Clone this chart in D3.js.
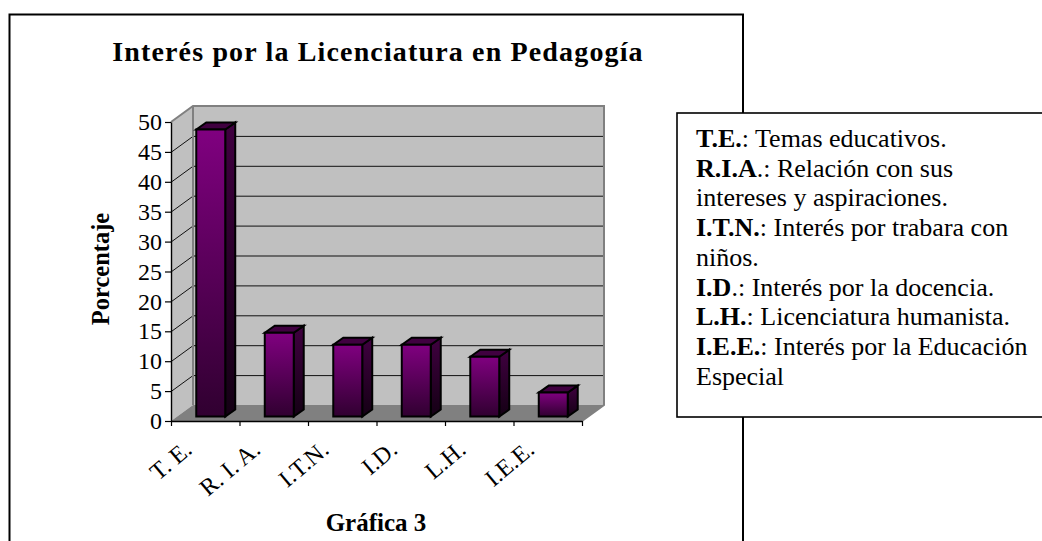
<!DOCTYPE html>
<html><head><meta charset="utf-8">
<script src="https://cdnjs.cloudflare.com/ajax/libs/d3/7.8.5/d3.min.js"></script>
<style>html,body{margin:0;padding:0;background:#fff;overflow:hidden}svg{display:block}text{font-family:"Liberation Serif",serif;fill:#000}</style>
</head><body><svg id="c" width="1042" height="541"></svg>
<script>
const categories = ["T. E.","R. I. A.","I.T.N.","I.D.","L.H.","I.E.E."];
const values = [48,14,12,12,10,4];
const yTicks = [0,5,10,15,20,25,30,35,40,45,50];
const titleText = "Interés por la Licenciatura en Pedagogía";
const yLabel = "Porcentaje";
const xLabel = "Gráfica 3";
const noteLines = [
 [["T.E.",1],[": Temas educativos.",0]],
 [["R.I.A",1],[".: Relación con sus",0]],
 [["intereses y aspiraciones.",0]],
 [["I.T.N.",1],[": Interés por trabara con",0]],
 [["niños.",0]],
 [["I.D",1],[".: Interés por la docencia.",0]],
 [["L.H.",1],[": Licenciatura humanista.",0]],
 [["I.E.E.",1],[": Interés por la Educación",0]],
 [["Especial",0]]
];

const svg = d3.select("#c");
const defs = svg.append("defs");
function grad(id,a,b){const g=defs.append("linearGradient").attr("id",id).attr("x1",0).attr("y1",0).attr("x2",0).attr("y2",1);
 g.append("stop").attr("offset","0%").attr("stop-color",a);g.append("stop").attr("offset","100%").attr("stop-color",b);}
grad("front","#800080","#300030");grad("side","#400040","#140014");

// outer chart frame
svg.append("path").attr("d","M9.5,541V14.5H743V541").attr("fill","none").attr("stroke","#000").attr("stroke-width",2);

const x0=171,x1=582,yB=421,yT=122,dx=22,dy=-16;
const y=d3.scaleLinear().domain([0,50]).range([yB,yT]);
const xEdge=d3.scaleLinear().domain([0,categories.length]).range([x0,x1]);
const xBand=d3.scaleBand().domain(categories).range([x0,x1]).paddingInner(0.577).paddingOuter(0.2885);
const g=svg.append("g");
const pts=a=>a.map(p=>p.join(",")).join(" ");
// walls
g.append("polygon").attr("points",pts([[x0+dx,yT+dy],[x1+dx,yT+dy],[x1+dx,yB+dy],[x0+dx,yB+dy]])).attr("fill","#c0c0c0");
g.append("polygon").attr("points",pts([[x0,yT],[x0+dx,yT+dy],[x0+dx,yB+dy],[x0,yB]])).attr("fill","#c0c0c0");
g.append("polygon").attr("points",pts([[x0,yB],[x0+dx,yB+dy],[x1+dx,yB+dy],[x1,yB]])).attr("fill","#808080");
// gridlines
g.selectAll(".gl").data(yTicks.filter(d=>d>0&&d<50)).join("path").attr("fill","none").attr("stroke","#111").attr("stroke-width",1)
 .attr("d",d=>`M${x0},${y(d)+.5}L${x0+dx},${y(d)+dy+.5}H${x1+dx}`);
// wall edges
g.append("path").attr("fill","none").attr("stroke","#808080").attr("stroke-width",2)
 .attr("d",`M${x0},${yT}L${x0+dx},${yT+dy}H${x1+dx}V${yB+dy}L${x1},${yB}M${x0+dx},${yT+dy}V${yB+dy}`);
// bars
const ox=5.5,oy=-4.5,bdx=10,bdy=-7;
const bars=g.selectAll(".bar").data(categories.map((c,i)=>({c,v:values[i]}))).join("g");
bars.each(function(d){
 const s=d3.select(this),l=xBand(d.c)+ox,r=l+xBand.bandwidth(),t=y(d.v)+oy,b=y(0)+oy;
 const st={stroke:"#000","stroke-width":2,"stroke-linejoin":"miter"};
 const add=(p,f)=>{const e=s.append("polygon").attr("points",pts(p)).attr("fill",f);Object.entries(st).forEach(([k,v])=>e.attr(k,v));};
 add([[r,t],[r+bdx,t+bdy],[r+bdx,b+bdy],[r,b]],"url(#side)");
 add([[l,t],[l+bdx,t+bdy],[r+bdx,t+bdy],[r,t]],"#400040");
 add([[l,t],[r,t],[r,b],[l,b]],"url(#front)");
});
// y axis
const ya=svg.append("g").attr("transform",`translate(${x0},0)`).call(d3.axisLeft(y).tickValues(yTicks).tickSize(6).tickSizeOuter(0).tickPadding(3));
ya.select(".domain").attr("stroke","#000").attr("stroke-width",1.4);
ya.selectAll(".tick line").attr("stroke","#000").attr("stroke-width",1.2);
ya.selectAll("text").attr("font-size",24).attr("font-family","Liberation Serif").attr("fill","#000");
// x axis
const xa=svg.append("g").attr("transform",`translate(0,${yB})`).call(d3.axisBottom(xEdge).tickValues(d3.range(categories.length+1)).tickSize(5).tickSizeOuter(0).tickFormat(""));
xa.select(".domain").attr("stroke","#000").attr("stroke-width",1.4);
xa.selectAll(".tick line").attr("stroke","#000").attr("stroke-width",1.2);
// x labels
svg.selectAll(".xl").data(categories).join("text").attr("text-anchor","end").attr("font-size",24)
 .attr("transform",d=>`translate(${xBand(d)+xBand.bandwidth()/2-12},452) rotate(-40)`).text(d=>d);
// titles
svg.append("text").attr("x",378).attr("y",61).attr("text-anchor","middle").attr("font-weight","bold").attr("font-size",28).attr("letter-spacing",1.15).text(titleText);
svg.append("text").attr("transform","translate(109,269) rotate(-90)").attr("text-anchor","middle").attr("font-weight","bold").attr("font-size",24.5).text(yLabel);
svg.append("text").attr("x",376).attr("y",531).attr("text-anchor","middle").attr("font-weight","bold").attr("font-size",25).text(xLabel);
// note box
svg.append("rect").attr("x",677).attr("y",113).attr("width",375).attr("height",304).attr("fill","#fff").attr("stroke","#000").attr("stroke-width",1.6);
const nt=svg.append("g");
noteLines.forEach((ln,i)=>{const t=nt.append("text").attr("x",696).attr("y",147+i*29.7).attr("font-size",26);
 ln.forEach(([s,b])=>t.append("tspan").attr("font-weight",b?"bold":"normal").text(s));});
</script></body></html>
